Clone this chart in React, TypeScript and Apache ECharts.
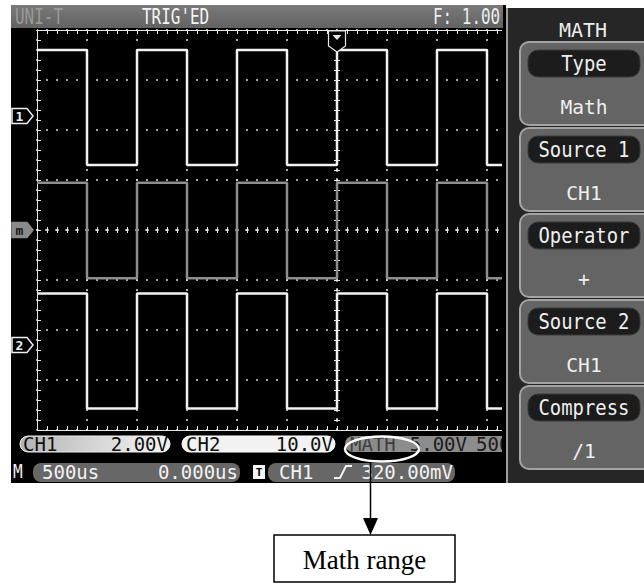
import React, { useEffect, useRef } from "react";
import * as echarts from "echarts";

const W = 644;
const H = 584;

// ---- time base (us) ----
const timeMin = -3000;
const timeMax = 3000;
const timeDiv = 500;
const visibleEnd = 1650;
const edgeTimes = [-2500, -2000, -1500, -1000, -500, 0, 500, 1000, 1500];

// ---- channel levels (V): [high, low], volts/div, position (div) ----
const ch1Levels = [2.64, -1.96];
const ch1Scale = 2;
const ch1Offset = 2.28;
const mathLevels = [4.73, -4.83];
const mathScale = 5;
const mathOffset = 0;
const ch2Levels = [10.3, -12.7];
const ch2Scale = 10;
const ch2Offset = -2.3;

// ---- texts ----
const topTexts = ["UNI-T", "TRIG'ED", "F: 1.00"];
const menuTitle = "MATH";
const menuLabels = ["Type", "Source 1", "Operator", "Source 2", "Compress"];
const menuValues = ["Math", "CH1", "+", "CH1", "/1"];
const statusRow1 = ["CH1", "2.00V", "CH2", "10.0V", "MATH", "5.00V", "500us"];
const statusRow2 = ["M", "500us", "0.000us", "T", "CH1", "320.00mV"];
const calloutText = "Math range";

// ---- layout constants ----
const GL = 37;
const GT = 30;
const GW = 600;
const GH = 400;
const DIVS_Y = 8;
const MONO = "DejaVu Sans Mono";

function square(levels: number[], scale: number, offset: number) {
  const toDiv = (v: number) => offset + v / scale;
  let hi = true;
  const pts: number[][] = [[timeMin, toDiv(levels[0])]];
  for (const e of edgeTimes) {
    pts.push([e, toDiv(hi ? levels[0] : levels[1])]);
    hi = !hi;
    pts.push([e, toDiv(hi ? levels[0] : levels[1])]);
  }
  pts.push([visibleEnd, toDiv(hi ? levels[0] : levels[1])]);
  return pts;
}

function T(
  x: number,
  y: number,
  text: string,
  size: number,
  fill: string,
  align = "left",
  sx = 1,
  weight = "normal",
  z = 100,
  family = MONO
) {
  return {
    type: "text",
    x,
    y,
    scaleX: sx,
    z,
    silent: true,
    style: {
      text,
      fill,
      font: `${weight} ${size}px "${family}"`,
      align,
      verticalAlign: "middle",
    },
  };
}

function R(x: number, y: number, w: number, h: number, fill: any, z = 100, r: any = 0, stroke?: string, lw = 1) {
  return {
    type: "rect",
    z,
    silent: true,
    shape: { x, y, width: w, height: h, r },
    style: stroke ? { fill, stroke, lineWidth: lw } : { fill },
  };
}

const dotted = { color: "#d6d6d6", width: 1.6, type: [2, 8], dashOffset: 1 };
const frameLine = { color: "#e8e8e8", width: 1 };

function markerY(offset: number) {
  return GT + (DIVS_Y / 2 - offset) * (GH / DIVS_Y);
}

function chMarker(cy: number, label: string, fill: string, stroke: string, textColor: string) {
  return [
    {
      type: "polygon",
      z: 20,
      silent: true,
      shape: { points: [[12, cy - 7.5], [27, cy - 7.5], [33, cy], [27, cy + 7.5], [12, cy + 7.5]] },
      style: { fill, stroke, lineWidth: 1.5 },
    },
    T(19.5, cy, label, 13, textColor, "center", 1, "bold", 21),
  ];
}

export default function App() {
  const ref = useRef<HTMLDivElement>(null);

  useEffect(() => {
    const chart = echarts.init(ref.current!, null, { renderer: "svg", width: W, height: H });

    const xCenter = GL + GW / 2;

    const graphic: any[] = [];
    // screen background
    graphic.push(R(11, 5, 495, 478, "#000", -10));
    // top status bar
    graphic.push(
      R(11, 5, 492, 23, new echarts.graphic.LinearGradient(0, 0, 0, 1, [
        { offset: 0, color: "#7a7a7a" },
        { offset: 1, color: "#626262" },
      ]), -5)
    );
    graphic.push(T(15, 17, topTexts[0], 21, "#9a9a9a", "left", 0.76, "normal", -4));
    graphic.push(T(142, 17, topTexts[1], 21, "#f4f4f4", "left", 0.76, "normal", -4));
    graphic.push(T(433, 17, topTexts[2], 21, "#eeeeee", "left", 0.76, "normal", -4));

    // channel markers
    graphic.push(...chMarker(markerY(ch1Offset), "1", "#000", "#f0f0f0", "#f0f0f0"));
    graphic.push(...chMarker(markerY(mathOffset), "m", "#8a8a8a", "#8a8a8a", "#1a1a1a"));
    graphic.push(...chMarker(markerY(ch2Offset), "2", "#000", "#f0f0f0", "#f0f0f0"));

    // trigger position marker
    graphic.push({
      type: "polygon",
      z: 20,
      silent: true,
      shape: { points: [[xCenter - 8.5, GT + 1], [xCenter + 8.5, GT + 1], [xCenter + 8.5, GT + 16], [xCenter, GT + 22], [xCenter - 8.5, GT + 16]] },
      style: { fill: "#000", stroke: "#e8e8e8", lineWidth: 1.2 },
    });
    graphic.push({
      type: "polygon",
      z: 21,
      silent: true,
      shape: { points: [[xCenter - 4.5, GT + 5], [xCenter + 4.5, GT + 5], [xCenter, GT + 10]] },
      style: { fill: "#e8e8e8" },
    });

    // status row 1
    const y1 = 443.5;
    graphic.push(
      R(20, 436, 150, 16, new echarts.graphic.LinearGradient(0, 0, 1, 0, [
        { offset: 0, color: "#b4b4b4" },
        { offset: 1, color: "#f6f6f6" },
      ]), 30, 8, "#eeeeee", 1)
    );
    graphic.push(T(23, y1, statusRow1[0], 19, "#111", "left", 1, "normal", 31));
    graphic.push(T(168, y1, statusRow1[1], 19, "#111", "right", 1, "normal", 31));
    graphic.push(R(182, 436, 153, 16, "#f2f2f2", 30, 8, "#ffffff", 1));
    graphic.push(T(186, y1, statusRow1[2], 19, "#111", "left", 1, "normal", 31));
    graphic.push(T(333, y1, statusRow1[3], 19, "#111", "right", 1, "normal", 31));
    graphic.push(R(345, 436, 180, 16, "#8c8c8c", 30, 8));
    graphic.push(T(350, y1, statusRow1[4], 19, "#3e3e3e", "left", 1, "normal", 31));
    graphic.push(T(467, y1, statusRow1[5], 19, "#1c1c1c", "right", 1, "normal", 31));
    graphic.push(T(476, y1, statusRow1[6], 19, "#1c1c1c", "left", 1, "normal", 31));

    // status row 2
    const y2 = 472;
    graphic.push(T(13, y2, statusRow2[0], 19, "#f0f0f0", "left", 0.85, "normal", 31));
    graphic.push(R(33, 463, 207, 19, "#676767", 30, 8));
    graphic.push(T(42, y2, statusRow2[1], 19, "#f2f2f2", "left", 1, "normal", 31));
    graphic.push(T(238, y2, statusRow2[2], 19, "#f2f2f2", "right", 1, "normal", 31));
    graphic.push(R(253, 465, 12, 14, "#f4f4f4", 30));
    graphic.push(T(259, y2, statusRow2[3], 11, "#000", "center", 1, "bold", 31));
    graphic.push(R(268, 463, 187, 19, "#676767", 30, 8));
    graphic.push(T(279, y2, statusRow2[4], 19, "#f2f2f2", "left", 1, "normal", 31));
    graphic.push({
      type: "polyline",
      z: 31,
      silent: true,
      shape: { points: [[334, 478], [340, 478], [346, 466], [352, 466]] },
      style: { stroke: "#f2f2f2", lineWidth: 2, fill: "none" },
    });
    graphic.push(T(453, y2, statusRow2[5], 19, "#f2f2f2", "right", 1, "normal", 31));

    // right side: gap + menu panel
    graphic.push(R(502, 28, 4, 455, "#000", 90));
    graphic.push(R(503, 5, 3, 23, "#000", 90));
    graphic.push(R(506, 8, 2, 475, "#a0a0a0", 90));
    graphic.push(R(508, 8, 136, 475, "#262626", 90));
    graphic.push(T(583, 30, menuTitle, 20, "#ececec", "center", 1, "normal", 95));
    menuLabels.forEach((lab, i) => {
      const top = 42 + i * 86;
      graphic.push(R(520, top, 134, 83, "#646464", 92, 9, "#a4a4a4", 2));
      graphic.push(R(528, top + 8, 112, 27, "#1c1c1c", 93, 10, "#3a3a3a", 1));
      graphic.push(T(584, top + 22, lab, 21, "#efefef", "center", 0.9, "normal", 95));
      graphic.push(T(584, top + 65, menuValues[i], 20, "#efefef", "center", 0.98, "normal", 95));
    });

    // callout
    graphic.push({
      type: "ellipse",
      z: 110,
      silent: true,
      shape: { cx: 382, cy: 449, rx: 37, ry: 12.5 },
      style: { fill: "none", stroke: "#ffffff", lineWidth: 2.5 },
    });
    graphic.push({
      type: "line",
      z: 105,
      silent: true,
      shape: { x1: 370.5, y1: 461, x2: 370.5, y2: 520 },
      style: { stroke: "#000", lineWidth: 1.5 },
    });
    graphic.push({
      type: "polygon",
      z: 105,
      silent: true,
      shape: { points: [[363, 518], [378, 518], [370.5, 535]] },
      style: { fill: "#000" },
    });
    graphic.push(R(274, 535, 181, 47, "#fff", 105, 0, "#000", 1.5));
    graphic.push(T(364.5, 560, calloutText, 27, "#000", "center", 1, "normal", 106, "Liberation Serif"));

    const grid = { left: GL, top: GT, width: GW, height: GH, show: false, containLabel: false };

    const baseX = {
      type: "value",
      min: timeMin,
      max: timeMax,
      interval: timeDiv,
      axisLabel: { show: false },
      splitLine: { show: false },
    };
    const baseY = {
      type: "value",
      min: -DIVS_Y / 2,
      max: DIVS_Y / 2,
      interval: 1,
      axisLabel: { show: false },
      splitLine: { show: false },
    };

    const option: any = {
      animation: false,
      backgroundColor: "#ffffff",
      grid: [grid, { ...grid }, { ...grid }],
      xAxis: [
        {
          ...baseX,
          gridIndex: 0,
          position: "bottom",
          axisLine: { show: true, onZero: false, lineStyle: frameLine },
          axisTick: { show: true, inside: true, length: 4, lineStyle: frameLine },
          minorTick: { show: true, splitNumber: 5, length: 4, lineStyle: frameLine },
          splitLine: { show: true, lineStyle: dotted },
        },
        {
          ...baseX,
          gridIndex: 0,
          position: "top",
          axisLine: { show: true, onZero: false, lineStyle: frameLine },
          axisTick: { show: true, inside: true, length: 4, lineStyle: frameLine },
          minorTick: { show: true, splitNumber: 5, length: 4, lineStyle: frameLine },
        },
        {
          ...baseX,
          gridIndex: 1,
          position: "bottom",
          axisLine: { show: true, onZero: true, lineStyle: dotted },
          axisTick: { show: true, inside: true, length: 3, lineStyle: frameLine },
          minorTick: { show: true, splitNumber: 5, length: 3, lineStyle: frameLine },
        },
        {
          ...baseX,
          gridIndex: 2,
          position: "bottom",
          axisLine: { show: true, onZero: true, lineStyle: dotted },
          axisTick: { show: true, inside: false, length: 3, lineStyle: frameLine },
          minorTick: { show: true, splitNumber: 5, length: 3, lineStyle: frameLine },
        },
      ],
      yAxis: [
        {
          ...baseY,
          gridIndex: 0,
          position: "left",
          axisLine: { show: true, onZero: false, lineStyle: frameLine },
          axisTick: { show: true, inside: true, length: 4, lineStyle: frameLine },
          minorTick: { show: true, splitNumber: 5, length: 4, lineStyle: frameLine },
          splitLine: { show: true, lineStyle: dotted },
        },
        {
          ...baseY,
          gridIndex: 1,
          position: "left",
          axisLine: { show: true, onZero: true, lineStyle: dotted },
          axisTick: { show: true, inside: true, length: 3, lineStyle: frameLine },
          minorTick: { show: true, splitNumber: 5, length: 3, lineStyle: frameLine },
        },
        {
          ...baseY,
          gridIndex: 2,
          position: "left",
          axisLine: { show: true, onZero: true, lineStyle: dotted },
          axisTick: { show: true, inside: false, length: 3, lineStyle: frameLine },
          minorTick: { show: true, splitNumber: 5, length: 3, lineStyle: frameLine },
        },
      ],
      series: [
        {
          name: "MATH",
          type: "line",
          xAxisIndex: 0,
          yAxisIndex: 0,
          data: square(mathLevels, mathScale, mathOffset),
          symbol: "none",
          silent: true,
          lineStyle: { color: "#8e8e8e", width: 2.5 },
          z: 3,
        },
        {
          name: "CH1",
          type: "line",
          xAxisIndex: 0,
          yAxisIndex: 0,
          data: square(ch1Levels, ch1Scale, ch1Offset),
          symbol: "none",
          silent: true,
          lineStyle: { color: "#f2f2f2", width: 2.5 },
          z: 4,
        },
        {
          name: "CH2",
          type: "line",
          xAxisIndex: 0,
          yAxisIndex: 0,
          data: square(ch2Levels, ch2Scale, ch2Offset),
          symbol: "none",
          silent: true,
          lineStyle: { color: "#f2f2f2", width: 2.5 },
          z: 4,
        },
      ],
      graphic: { elements: graphic },
    };

    chart.setOption(option);
    return () => chart.dispose();
  }, []);

  return <div ref={ref} style={{ position: "fixed", left: 0, top: 0, width: W, height: H }} />;
}
